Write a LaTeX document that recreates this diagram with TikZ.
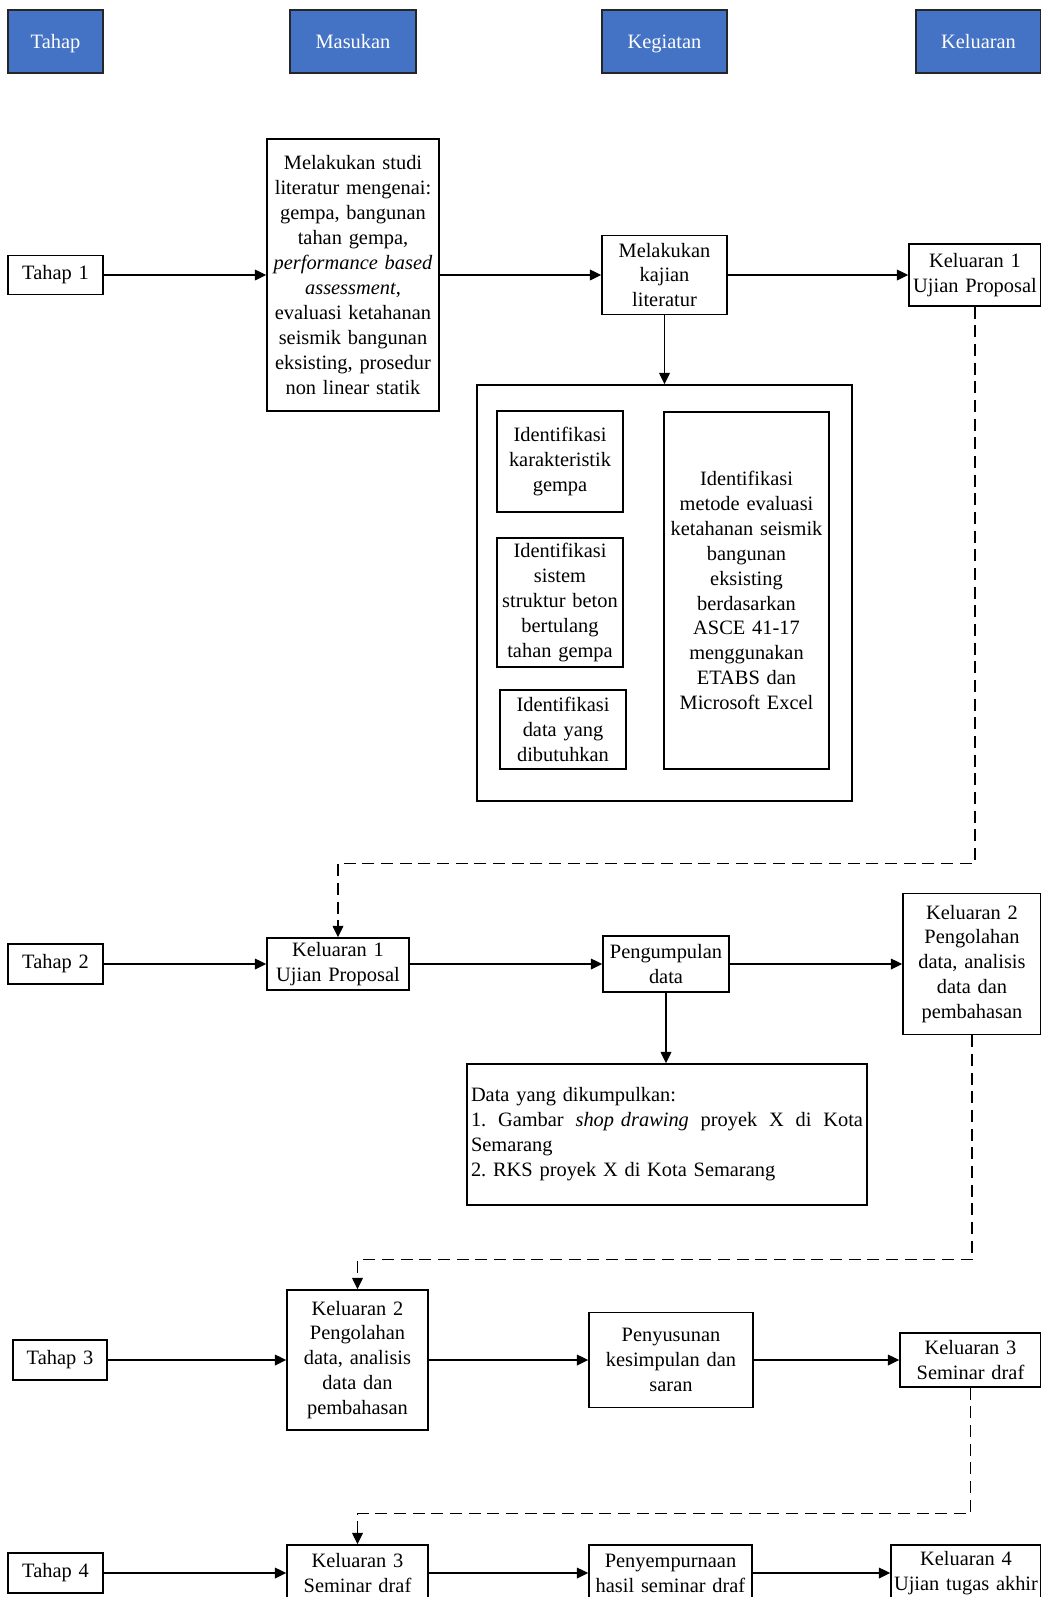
\documentclass[tikz,border=0pt]{standalone}
\usepackage{fontspec}
\setmainfont{Liberation Serif}
\frenchspacing
\usetikzlibrary{arrows.meta}
\definecolor{biru}{HTML}{4472C4}
\tikzset{
  kotak/.style 2 args={draw, line width=1.1pt, align=center, inner sep=0pt,
    minimum width=#1*0.75pt, minimum height=#2*0.75pt, text width=#1*0.75pt-4pt,
    font=\fontsize{15.3}{18.7}\selectfont},
  judul/.style 2 args={kotak={#1}{#2}, fill=biru, draw=black!85, text=white,
    text height=12.5pt, text depth=1.5pt},
  panah/.style={-{Triangle[length=8.5pt,width=8pt]}, line width=1pt},
  putus/.style={panah, dash pattern=on 9pt off 5pt}
}
\begin{document}
\begin{tikzpicture}[x=0.75pt,y=-0.75pt]
    \useasboundingbox (0,0) rectangle (1041,1597);
    \clip (0,0) rectangle (1041,1597);
    \node[judul={95}{63}] (tahap) at (55.5,41.5) {Tahap};
    \node[judul={126}{63}] (masukanjudul) at (353,41.5) {Masukan};
    \node[judul={125}{63}] (kegiatan) at (664.5,41.5) {Kegiatan};
    \node[judul={125}{63}] (keluaran) at (978.5,41.5) {Keluaran};
    % tahap 1
    \node[kotak={95}{39}] (tahap1) at (55.5,275) {Tahap 1};
    \node[kotak={172}{272}] (masukan) at (353,275) {Melakukan studi\\literatur mengenai:\\gempa, bangunan\\tahan gempa,\\\textit{performance based}\\\textit{assessment},\\evaluasi ketahanan\\seismik bangunan\\eksisting, prosedur\\non linear statik};
    \node[kotak={125}{79}] (kajian) at (664.5,275) {Melakukan\\kajian\\literatur};
    \node[kotak={132}{62}] (kel1) at (975,275) {Keluaran 1\\Ujian Proposal};
    \node[kotak={375}{416}] (kajianbox) at (664.5,593) {};
    \node[kotak={126}{101}] (idgempa) at (560,461.5) {Identifikasi\\karakteristik\\gempa};
    \node[kotak={126}{129}] (idstruktur) at (560,602.5) {Identifikasi\\sistem\\struktur beton\\bertulang\\tahan gempa};
    \node[kotak={126}{79}] (iddata) at (563,729.5) {Identifikasi\\data yang\\dibutuhkan};
    \node[kotak={165}{357}] (idmetode) at (746.5,590.5) {Identifikasi\\metode evaluasi\\ketahanan seismik\\bangunan\\eksisting\\berdasarkan\\ASCE 41-17\\menggunakan\\ETABS dan\\Microsoft Excel};
    \draw[panah] (tahap1) -- (masukan);
    \draw[panah] (masukan) -- (kajian);
    \draw[panah] (kajian) -- (kel1);
    \draw[panah] (kajian) -- (kajianbox);
    % tahap 2
    \node[kotak={95}{40}] (tahap2) at (55.5,964) {Tahap 2};
    \node[kotak={142}{52}] (kel1b) at (338,964) {Keluaran 1\\Ujian Proposal};
    \node[kotak={126}{56}] (kumpul) at (666,964) {Pengumpulan\\data};
    \node[kotak={138}{141}] (kel2) at (972,964) {Keluaran 2\\Pengolahan\\data, analisis\\data dan\\pembahasan};
    \node[kotak={400}{141}, text width=392*0.75pt, align=left] (datakumpul) at (667,1134.5) {Data yang dikumpulkan:\\1.\hfill Gambar\hfill\textit{shop drawing}\hfill proyek\hfill X\hfill di\hfill Kota\\Semarang\\2. RKS proyek X di Kota Semarang};
    \draw[putus] (kel1.south) -- ++(0,556.7) -| (kel1b.north);
    \draw[panah] (tahap2) -- (kel1b);
    \draw[panah] (kel1b) -- (kumpul);
    \draw[panah] (kumpul) -- (kel2);
    \draw[panah] (kumpul.south) -- (kumpul.south |- datakumpul.north);
    % tahap 3
    \node[kotak={94}{40}] (tahap3) at (60,1360) {Tahap 3};
    \node[kotak={141}{140}] (kel2b) at (357.5,1360) {Keluaran 2\\Pengolahan\\data, analisis\\data dan\\pembahasan};
    \node[kotak={164}{95}] (susun) at (671,1360) {Penyusunan\\kesimpulan dan\\saran};
    \node[kotak={141}{54}] (kel3) at (970.5,1360) {Keluaran 3\\Seminar draf};
    \draw[putus] (kel2.south) -- ++(0,224.5) -| (kel2b.north);
    \draw[panah] (tahap3) -- (kel2b);
    \draw[panah] (kel2b) -- (susun);
    \draw[panah] (susun) -- (kel3);
    % tahap 4
    \node[kotak={95}{40}] (tahap4) at (55.5,1573) {Tahap 4};
    \node[kotak={141}{56}] (kel3b) at (357.5,1573) {Keluaran 3\\Seminar draf};
    \node[kotak={163}{56}] (sempurna) at (670.5,1573) {Penyempurnaan\\hasil seminar draf};
    \node[kotak={150}{56}] (kel4) at (966,1573) {Keluaran 4\\Ujian tugas akhir};
    \draw[putus] (kel3.south) -- ++(0,126) -| (kel3b.north);
    \draw[panah] (tahap4) -- (kel3b);
    \draw[panah] (kel3b) -- (sempurna);
    \draw[panah] (sempurna) -- (kel4);
\end{tikzpicture}
\end{document}
